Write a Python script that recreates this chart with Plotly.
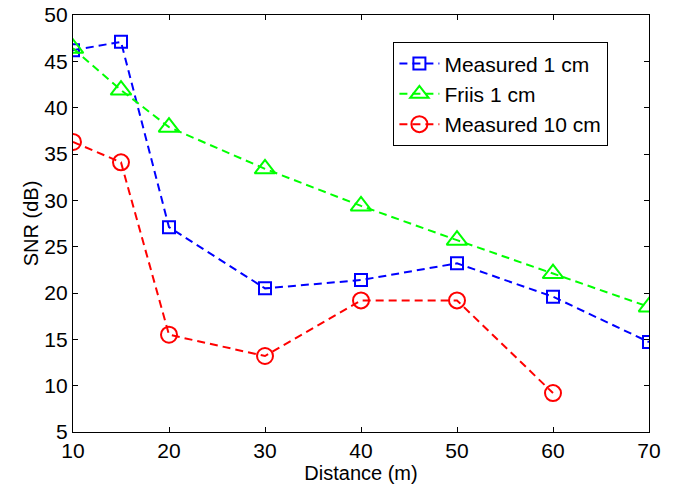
import plotly.graph_objects as go

# Distances (m) and SNR readings (dB)
distance_1cm = [10, 15, 20, 30, 40, 50, 60, 70]
measured_1cm = [46.2, 47.1, 27.1, 20.5, 21.4, 23.2, 19.6, 14.7]
friis_1cm = [46.4, 41.9, 37.9, 33.4, 29.4, 25.7, 22.1, 18.5]

distance_10cm = [10, 15, 20, 30, 40, 50, 60]
measured_10cm = [36.3, 34.1, 15.5, 13.2, 19.2, 19.2, 9.2]

x_ticks = [10, 20, 30, 40, 50, 60, 70]
y_ticks = [5, 10, 15, 20, 25, 30, 35, 40, 45, 50]

FONT = "Liberation Sans, Arial, Helvetica, sans-serif"
DASH = "8px,5px"

fig = go.Figure()

fig.add_trace(go.Scatter(
    x=distance_1cm, y=measured_1cm, name="Measured 1 cm", mode="lines+markers",
    line=dict(color="#0000FF", width=2, dash=DASH),
    marker=dict(symbol="square-open", size=12, color="#0000FF", line=dict(width=2))))

fig.add_trace(go.Scatter(
    x=distance_1cm, y=friis_1cm, name="Friis 1 cm", mode="lines+markers",
    line=dict(color="#00FF00", width=2, dash=DASH),
    marker=dict(symbol="triangle-up-open", size=18, color="#00FF00", line=dict(width=2))))

fig.add_trace(go.Scatter(
    x=distance_10cm, y=measured_10cm, name="Measured 10 cm", mode="lines+markers",
    line=dict(color="#FF0000", width=2, dash=DASH),
    marker=dict(symbol="circle-open", size=16, color="#FF0000", line=dict(width=2))))

axis_style = dict(showline=True, linecolor="black", linewidth=1.3, mirror="ticks",
                  ticks="inside", ticklen=5, tickcolor="black", showgrid=False,
                  zeroline=False, automargin=False,
                  tickfont=dict(size=21, color="black"))

fig.update_xaxes(range=[10, 70], tickvals=x_ticks,
                 title=dict(text="Distance (m)", font=dict(size=20, color="black"), standoff=0),
                 **axis_style)
fig.update_yaxes(range=[5, 50], tickvals=y_ticks,
                 title=dict(text="SNR (dB)", font=dict(size=20, color="black"), standoff=0),
                 **axis_style)

fig.update_layout(
    width=675, height=487,
    margin=dict(l=73, r=26, t=15, b=55),
    paper_bgcolor="white", plot_bgcolor="white",
    font=dict(family=FONT, size=20, color="black"),
    showlegend=True,
    legend=dict(x=0.929, y=0.935, xanchor="right", yanchor="top",
                bgcolor="white", bordercolor="black", borderwidth=1.3,
                font=dict(size=21), tracegroupgap=0, itemwidth=40),
)

# drop the browser's default body margin so the figure sits at the top-left corner
fig.write_html("out.html", config={"displayModeBar": False},
               post_script="document.body.style.margin = '0';")
